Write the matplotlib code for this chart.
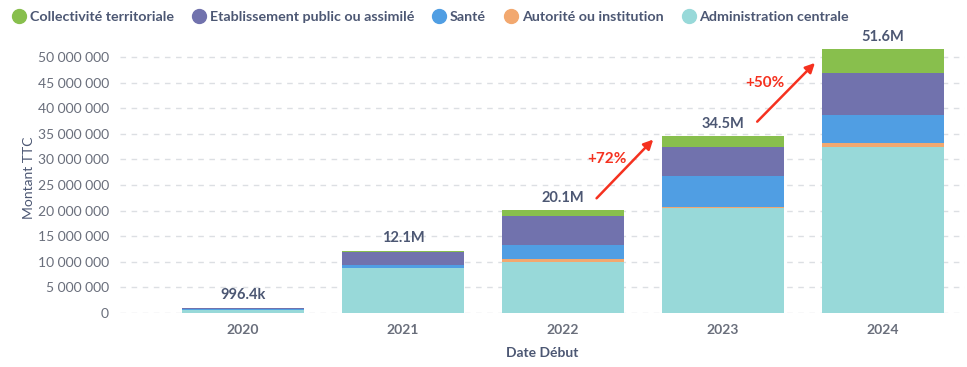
import matplotlib
matplotlib.use("Agg")
import matplotlib.pyplot as plt
from matplotlib.lines import Line2D
from matplotlib.ticker import FuncFormatter, MultipleLocator
import numpy as np

plt.rcParams['font.family'] = ['Lato', 'DejaVu Sans']

years = ["2020", "2021", "2022", "2023", "2024"]
administration_centrale = [0.45e6, 8.7e6, 10.0e6, 20.4e6, 32.4e6]
autorite_institution = [0.02e6, 0.05e6, 0.45e6, 0.35e6, 0.9e6]
sante = [0.33e6, 0.6e6, 2.8e6, 6.05e6, 5.4e6]
etablissement_public = [0.05e6, 2.5e6, 5.75e6, 5.6e6, 8.3e6]
collectivite_territoriale = [0.1464e6, 0.25e6, 1.1e6, 2.1e6, 4.6e6]
total_labels = ["996.4k", "12.1M", "20.1M", "34.5M", "51.6M"]
growth_labels = ["+72%", "+50%"]

series = [
    ("Administration centrale", administration_centrale, "#98D9D9"),
    ("Autorité ou institution", autorite_institution, "#F2A86F"),
    ("Santé", sante, "#509EE3"),
    ("Etablissement public ou assimilé", etablissement_public, "#7172AD"),
    ("Collectivité territoriale", collectivite_territoriale, "#88BF4D"),
]

W, H = 967, 367
fig = plt.figure(figsize=(W / 100, H / 100), dpi=100)
ax_left, ax_right = 120, 965
y0_px, ylim_top = 312.7, 53e6
px_per_unit = 5.108 / 1e6
ax_top = y0_px - ylim_top * px_per_unit
ax = fig.add_axes([ax_left / W, 1 - y0_px / H, (ax_right - ax_left) / W, (y0_px - ax_top) / H])

x = np.arange(len(years))
bottom = np.zeros(len(years))
for name, vals, col in series:
    v = np.array(vals)
    ax.bar(x, v, bottom=bottom, width=0.7625, color=col, label=name, linewidth=0, zorder=2)
    bottom += v

ax.set_xlim(-0.769, 4.513)
ax.set_ylim(0, ylim_top)
ax.yaxis.set_major_locator(MultipleLocator(5e6))
ax.yaxis.set_major_formatter(FuncFormatter(lambda v, p: f"{int(round(v)):,}".replace(",", " ")))
ax.grid(axis='y', color='#DCDFE3', linestyle=(0, (4, 4)), linewidth=1, zorder=0)
for s in ax.spines.values():
    s.set_visible(False)
ax.tick_params(axis='y', length=0, pad=8, labelsize=10, labelcolor='#696E7B')
ax.tick_params(axis='x', length=0, pad=8, labelsize=10, labelcolor='#696E7B')
ax.set_xticks(x)
ax.set_xticklabels(years, fontweight='bold')

text_col = '#4C5773'
ax.set_ylabel("Montant TTC", fontsize=10, color=text_col, labelpad=0)
ax.yaxis.set_label_coords((35 - ax_left) / (ax_right - ax_left), 0.5)
ax.set_xlabel("Date Début", fontsize=10, color=text_col, fontweight='bold', labelpad=8)

for i, lab in enumerate(total_labels):
    ax.annotate(lab, (x[i], bottom[i]), xytext=(0, 9), textcoords='offset points',
                ha='center', va='center', fontsize=10.5, fontweight='bold', color=text_col)

red = '#F5311F'
arrows = [((2.21, 22.4e6), (2.564, 33.9e6), (2.273, 30.0e6)),
          ((3.214, 37.4e6), (3.575, 48.9e6), (3.26, 44.9e6))]
for (tail, head, tpos), lab in zip(arrows, growth_labels):
    ax.annotate("", xy=head, xytext=tail,
                arrowprops=dict(arrowstyle='-|>', color=red, lw=1.8, mutation_scale=14,
                                shrinkA=0, shrinkB=0))
    ax.text(tpos[0], tpos[1], lab, color=red, fontsize=11, fontweight='bold',
            ha='center', va='center')

legend_order = [4, 3, 2, 1, 0]
handles = [Line2D([], [], marker='o', linestyle='none', markersize=10,
                  markerfacecolor=series[i][2], markeredgecolor=series[i][2]) for i in legend_order]
labels = [series[i][0] for i in legend_order]
fig.legend(handles, labels, loc='center left', bbox_to_anchor=(-2 / W, 1 - 17 / H),
           ncol=5, frameon=False, handletextpad=0.15, columnspacing=1.15,
           handlelength=1.2, labelcolor=text_col, prop={'weight': 'bold', 'size': 10.3})

fig.savefig("out.png", dpi=100)
